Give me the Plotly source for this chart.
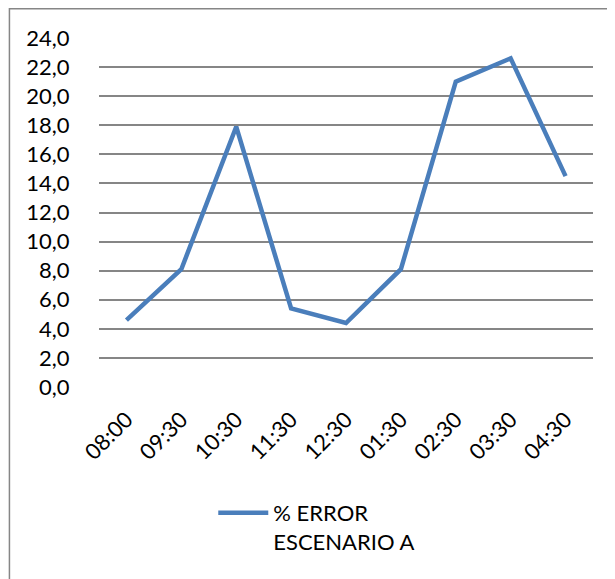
import plotly.graph_objects as go

categories = ["08:00", "09:30", "10:30", "11:30", "12:30", "01:30", "02:30", "03:30", "04:30"]
error_a = [4.6, 8.1, 17.9, 5.4, 4.4, 8.1, 21.0, 22.6, 14.5]
y_ticks = [0, 2, 4, 6, 8, 10, 12, 14, 16, 18, 20, 22, 24]

OFF = 8  # page body margin
W, H = 615 - OFF, 579 - OFF
L, R, T, B = 98.5 - OFF, 21.5, 38 - OFF, 192
pw, ph = W - L - R, H - T - B

def px(x):  # page x -> paper
    return (x - OFF - L) / pw

def py(y):  # page y -> paper
    return (H - B - (y - OFF)) / ph

fig = go.Figure()
fig.add_trace(go.Scatter(
    x=categories, y=error_a, mode="lines",
    name="% ERROR<br>ESCENARIO A",
    line=dict(color="#4A7EBB", width=4.5),
))

font = dict(family="Lato, 'Open Sans', sans-serif", size=22, color="#000000")

fig.update_layout(
    width=W, height=H,
    margin=dict(l=L, r=R, t=T, b=B, autoexpand=False),
    paper_bgcolor="white", plot_bgcolor="white",
    separators=", ",
    font=font,
    showlegend=True,
    legend=dict(x=px(213), y=py(492), xanchor="left", yanchor="top",
                valign="top", font=font, itemwidth=50,
                bgcolor="rgba(0,0,0,0)"),
    xaxis=dict(type="category", showgrid=False, showline=False, zeroline=False,
               ticks="outside", ticklen=10, tickcolor="rgba(0,0,0,0)",
               tickangle=-45, tickfont=font, range=[-0.5, 8.5]),
    yaxis=dict(range=[0, 24], tickvals=y_ticks, tickformat=".1f",
               showgrid=True, gridcolor="#868686", gridwidth=1.5,
               zeroline=False, showline=False,
               ticks="outside", ticklen=24, tickcolor="rgba(0,0,0,0)",
               tickfont=font),
    shapes=[dict(type="rect", xref="paper", yref="paper",
                 x0=px(OFF + 0.75), x1=px(640), y0=py(600), y1=py(OFF + 0.75),
                 line=dict(color="#868686", width=1.5))],
)

fig.write_html("out.html")
